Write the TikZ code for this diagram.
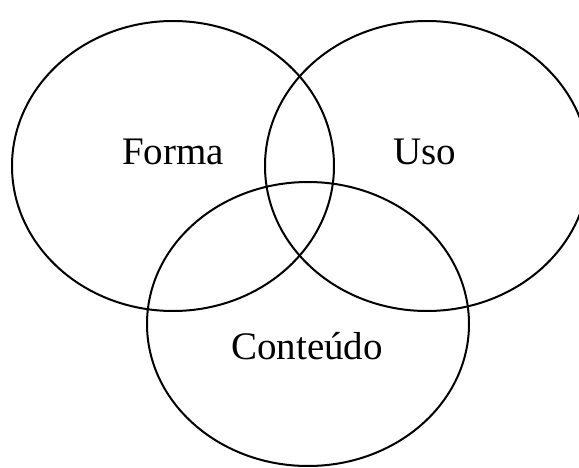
\documentclass[tikz,border=0pt]{standalone}
\usepackage{fontspec}
\setmainfont{Liberation Serif}
\begin{document}
\begin{tikzpicture}[x=1pt,y=1pt,
  ring/.style={draw=black,line width=2pt},
  lbl/.style={font=\fontsize{39}{44}\selectfont,anchor=base,inner sep=0pt}]
\useasboundingbox (0,0) rectangle (579,467);
\draw[ring] (173,301) ellipse [x radius=161, y radius=145];
\draw[ring] (427,301) ellipse [x radius=162, y radius=145];
\draw[ring] (308,143) ellipse [x radius=161, y radius=142];
\node[lbl] (forma) at (173,302) {Forma};
\node[lbl] (uso) at (425,302) {Uso};
\node[lbl] (cont) at (307,108) {Conteúdo};
\end{tikzpicture}
\end{document}
